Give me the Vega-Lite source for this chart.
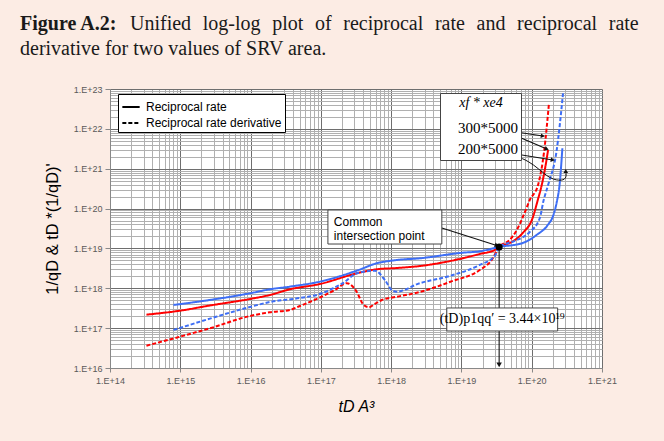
{
  "$schema": "https://vega.github.io/schema/vega-lite/v6.json",
  "width": 492,
  "height": 279,
  "autosize": {"type": "none"},
  "padding": {"left": 110, "top": 89, "right": 62, "bottom": 73},
  "background": "#fcece4",
  "config": {"view": {"fill": "white", "stroke": null}, "font": "Liberation Sans"},
  "title": {
    "text": "Figure A.2:",
    "subtitle": ["\u200b\u00a0\u00a0\u00a0\u00a0\u00a0\u00a0\u00a0\u00a0\u00a0\u00a0\u00a0\u00a0\u00a0\u00a0\u00a0\u00a0\u00a0\u00a0\u00a0\u00a0\u00a0\u00a0Unified\u2002\u200alog-log\u2002\u200aplot\u2002\u200aof\u2002\u200areciprocal\u2002\u200arate\u2002\u200aand\u2002\u200areciprocal\u2002\u200arate", "derivative for two values of SRV area."],
    "anchor": "start",
    "frame": "group",
    "dx": -90,
    "offset": 26,
    "font": "Liberation Serif",
    "fontSize": 20,
    "fontWeight": "bold",
    "color": "#1a1a1a",
    "subtitleFont": "Liberation Serif",
    "subtitleFontSize": 20,
    "subtitleLineHeight": 25,
    "subtitleColor": "#1a1a1a",
    "subtitlePadding": -20
  },
  "datasets": {
    "curves": [
      {"x": 3.3e14, "y": 2.18e17, "area": "300*5000", "kind": "Reciprocal rate"},
      {"x": 9.9e14, "y": 2.74e17, "area": "300*5000", "kind": "Reciprocal rate"},
      {"x": 2.64e15, "y": 3.7e17, "area": "300*5000", "kind": "Reciprocal rate"},
      {"x": 9.8e15, "y": 5.39e17, "area": "300*5000", "kind": "Reciprocal rate"},
      {"x": 1.88e16, "y": 6.79e17, "area": "300*5000", "kind": "Reciprocal rate"},
      {"x": 3.62e16, "y": 9.44e17, "area": "300*5000", "kind": "Reciprocal rate"},
      {"x": 9.69e16, "y": 1.28e18, "area": "300*5000", "kind": "Reciprocal rate"},
      {"x": 3.25e17, "y": 2.38e18, "area": "300*5000", "kind": "Reciprocal rate"},
      {"x": 6.25e17, "y": 3.0e18, "area": "300*5000", "kind": "Reciprocal rate"},
      {"x": 1.21e18, "y": 3.23e18, "area": "300*5000", "kind": "Reciprocal rate"},
      {"x": 2.56e18, "y": 3.62e18, "area": "300*5000", "kind": "Reciprocal rate"},
      {"x": 1.04e19, "y": 5.66e18, "area": "300*5000", "kind": "Reciprocal rate"},
      {"x": 1.82e19, "y": 7.25e18, "area": "300*5000", "kind": "Reciprocal rate"},
      {"x": 2.98e19, "y": 9.14e18, "area": "300*5000", "kind": "Reciprocal rate"},
      {"x": 3.44e19, "y": 1.09e19, "area": "300*5000", "kind": "Reciprocal rate"},
      {"x": 5.2e19, "y": 1.45e19, "area": "300*5000", "kind": "Reciprocal rate"},
      {"x": 7.45e19, "y": 2.44e19, "area": "300*5000", "kind": "Reciprocal rate"},
      {"x": 1.03e20, "y": 5.81e19, "area": "300*5000", "kind": "Reciprocal rate"},
      {"x": 1.22e20, "y": 1.64e20, "area": "300*5000", "kind": "Reciprocal rate"},
      {"x": 1.39e20, "y": 3.91e20, "area": "300*5000", "kind": "Reciprocal rate"},
      {"x": 1.58e20, "y": 1.24e21, "area": "300*5000", "kind": "Reciprocal rate"},
      {"x": 1.71e20, "y": 2.95e21, "area": "300*5000", "kind": "Reciprocal rate"},

      {"x": 8.0e14, "y": 3.81e17, "area": "200*5000", "kind": "Reciprocal rate"},
      {"x": 2.64e15, "y": 5.09e17, "area": "200*5000", "kind": "Reciprocal rate"},
      {"x": 9.8e15, "y": 7.49e17, "area": "200*5000", "kind": "Reciprocal rate"},
      {"x": 1.88e16, "y": 9.44e17, "area": "200*5000", "kind": "Reciprocal rate"},
      {"x": 3.62e16, "y": 1.1e18, "area": "200*5000", "kind": "Reciprocal rate"},
      {"x": 9.69e16, "y": 1.47e18, "area": "200*5000", "kind": "Reciprocal rate"},
      {"x": 3.25e17, "y": 2.77e18, "area": "200*5000", "kind": "Reciprocal rate"},
      {"x": 6.25e17, "y": 4.24e18, "area": "200*5000", "kind": "Reciprocal rate"},
      {"x": 1.21e18, "y": 5.13e18, "area": "200*5000", "kind": "Reciprocal rate"},
      {"x": 2.56e18, "y": 5.66e18, "area": "200*5000", "kind": "Reciprocal rate"},
      {"x": 1.04e19, "y": 7.81e18, "area": "200*5000", "kind": "Reciprocal rate"},
      {"x": 1.82e19, "y": 8.47e18, "area": "200*5000", "kind": "Reciprocal rate"},
      {"x": 3.44e19, "y": 1.09e19, "area": "200*5000", "kind": "Reciprocal rate"},
      {"x": 7.45e19, "y": 1.37e19, "area": "200*5000", "kind": "Reciprocal rate"},
      {"x": 1.17e20, "y": 2.17e19, "area": "200*5000", "kind": "Reciprocal rate"},
      {"x": 1.69e20, "y": 3.87e19, "area": "200*5000", "kind": "Reciprocal rate"},
      {"x": 2.01e20, "y": 6.5e19, "area": "200*5000", "kind": "Reciprocal rate"},
      {"x": 2.27e20, "y": 1.45e20, "area": "200*5000", "kind": "Reciprocal rate"},
      {"x": 2.5e20, "y": 4.2e20, "area": "200*5000", "kind": "Reciprocal rate"},
      {"x": 2.73e20, "y": 3.25e21, "area": "200*5000", "kind": "Reciprocal rate"},

      {"x": 3.3e14, "y": 3.63e16, "area": "300*5000", "kind": "Reciprocal rate derivative"},
      {"x": 9.9e14, "y": 6.11e16, "area": "300*5000", "kind": "Reciprocal rate derivative"},
      {"x": 2.64e15, "y": 9.91e16, "area": "300*5000", "kind": "Reciprocal rate derivative"},
      {"x": 9.8e15, "y": 2.02e17, "area": "300*5000", "kind": "Reciprocal rate derivative"},
      {"x": 1.88e16, "y": 2.5e17, "area": "300*5000", "kind": "Reciprocal rate derivative"},
      {"x": 3.62e16, "y": 2.86e17, "area": "300*5000", "kind": "Reciprocal rate derivative"},
      {"x": 5.03e16, "y": 3.6e17, "area": "300*5000", "kind": "Reciprocal rate derivative"},
      {"x": 9.69e16, "y": 5.87e17, "area": "300*5000", "kind": "Reciprocal rate derivative"},
      {"x": 1.58e17, "y": 9.06e17, "area": "300*5000", "kind": "Reciprocal rate derivative"},
      {"x": 2.34e17, "y": 1.34e18, "area": "300*5000", "kind": "Reciprocal rate derivative"},
      {"x": 3.25e17, "y": 8.07e17, "area": "300*5000", "kind": "Reciprocal rate derivative"},
      {"x": 3.96e17, "y": 4.04e17, "area": "300*5000", "kind": "Reciprocal rate derivative"},
      {"x": 4.82e17, "y": 3.34e17, "area": "300*5000", "kind": "Reciprocal rate derivative"},
      {"x": 5.86e17, "y": 4.04e17, "area": "300*5000", "kind": "Reciprocal rate derivative"},
      {"x": 7.38e17, "y": 5.09e17, "area": "300*5000", "kind": "Reciprocal rate derivative"},
      {"x": 1.21e18, "y": 6.15e17, "area": "300*5000", "kind": "Reciprocal rate derivative"},
      {"x": 2.56e18, "y": 8.07e17, "area": "300*5000", "kind": "Reciprocal rate derivative"},
      {"x": 6.83e18, "y": 1.44e18, "area": "300*5000", "kind": "Reciprocal rate derivative"},
      {"x": 1.82e19, "y": 2.88e18, "area": "300*5000", "kind": "Reciprocal rate derivative"},
      {"x": 2.7e19, "y": 5.13e18, "area": "300*5000", "kind": "Reciprocal rate derivative"},
      {"x": 3.44e19, "y": 1.09e19, "area": "300*5000", "kind": "Reciprocal rate derivative"},
      {"x": 4.87e19, "y": 1.63e19, "area": "300*5000", "kind": "Reciprocal rate derivative"},
      {"x": 6.13e19, "y": 2.9e19, "area": "300*5000", "kind": "Reciprocal rate derivative"},
      {"x": 7.69e19, "y": 6.9e19, "area": "300*5000", "kind": "Reciprocal rate derivative"},
      {"x": 9.38e19, "y": 1.64e20, "area": "300*5000", "kind": "Reciprocal rate derivative"},
      {"x": 1.23e20, "y": 3.91e20, "area": "300*5000", "kind": "Reciprocal rate derivative"},
      {"x": 1.5e20, "y": 2.68e21, "area": "300*5000", "kind": "Reciprocal rate derivative"},
      {"x": 1.76e20, "y": 4.38e22, "area": "300*5000", "kind": "Reciprocal rate derivative"},

      {"x": 8.0e14, "y": 8.99e16, "area": "200*5000", "kind": "Reciprocal rate derivative"},
      {"x": 2.64e15, "y": 1.73e17, "area": "200*5000", "kind": "Reciprocal rate derivative"},
      {"x": 9.8e15, "y": 3.4e17, "area": "200*5000", "kind": "Reciprocal rate derivative"},
      {"x": 1.88e16, "y": 4.53e17, "area": "200*5000", "kind": "Reciprocal rate derivative"},
      {"x": 5.03e16, "y": 5.71e17, "area": "200*5000", "kind": "Reciprocal rate derivative"},
      {"x": 9.69e16, "y": 7.19e17, "area": "200*5000", "kind": "Reciprocal rate derivative"},
      {"x": 1.48e17, "y": 1.0e18, "area": "200*5000", "kind": "Reciprocal rate derivative"},
      {"x": 2.06e17, "y": 1.34e18, "area": "200*5000", "kind": "Reciprocal rate derivative"},
      {"x": 3.25e17, "y": 2.38e18, "area": "200*5000", "kind": "Reciprocal rate derivative"},
      {"x": 5.86e17, "y": 2.77e18, "area": "200*5000", "kind": "Reciprocal rate derivative"},
      {"x": 8.13e17, "y": 1.62e18, "area": "200*5000", "kind": "Reciprocal rate derivative"},
      {"x": 1.02e18, "y": 9.06e17, "area": "200*5000", "kind": "Reciprocal rate derivative"},
      {"x": 1.19e18, "y": 8.22e17, "area": "200*5000", "kind": "Reciprocal rate derivative"},
      {"x": 2.56e18, "y": 1.34e18, "area": "200*5000", "kind": "Reciprocal rate derivative"},
      {"x": 6.83e18, "y": 2.04e18, "area": "200*5000", "kind": "Reciprocal rate derivative"},
      {"x": 1.82e19, "y": 3.85e18, "area": "200*5000", "kind": "Reciprocal rate derivative"},
      {"x": 2.98e19, "y": 6.46e18, "area": "200*5000", "kind": "Reciprocal rate derivative"},
      {"x": 3.44e19, "y": 1.09e19, "area": "200*5000", "kind": "Reciprocal rate derivative"},
      {"x": 5.74e19, "y": 1.54e19, "area": "200*5000", "kind": "Reciprocal rate derivative"},
      {"x": 9.38e19, "y": 2.58e19, "area": "200*5000", "kind": "Reciprocal rate derivative"},
      {"x": 1.3e20, "y": 5.71e19, "area": "200*5000", "kind": "Reciprocal rate derivative"},
      {"x": 1.48e20, "y": 1.64e20, "area": "200*5000", "kind": "Reciprocal rate derivative"},
      {"x": 1.71e20, "y": 3.91e20, "area": "200*5000", "kind": "Reciprocal rate derivative"},
      {"x": 2.25e20, "y": 2.68e21, "area": "200*5000", "kind": "Reciprocal rate derivative"},
      {"x": 2.79e20, "y": 7.8e22, "area": "200*5000", "kind": "Reciprocal rate derivative"}
    ],
    "arrows": [
      {"id": "common", "x": 5.26e18, "y": 3.26e19, "x2": 3.18e19, "y2": 1.19e19},
      {"id": "drop", "x": 3.44e19, "y": 1.09e19, "x2": 3.44e19, "y2": 1.2e16},
      {"id": "a1", "x": 3.87e19, "y": 9.35e21, "x2": 1.44e20, "y2": 6.62e21},
      {"id": "a2", "x": 3.87e19, "y": 9.35e21, "x2": 1.64e20, "y2": 3.13e21},
      {"id": "a3", "x": 3.87e19, "y": 2.63e21, "x2": 1.99e20, "y2": 1.66e21}
    ],
    "hook": [
      {"step": 1, "x": 3.87e19, "y": 2.63e21},
      {"step": 2, "x": 9.38e19, "y": 1.66e21},
      {"step": 3, "x": 1.69e20, "y": 5.85e20},
      {"step": 4, "x": 2.5e20, "y": 4.92e20},
      {"step": 5, "x": 3.15e20, "y": 5.52e20},
      {"step": 6, "x": 3.05e20, "y": 8.77e20}
    ],
    "heads": [
      {"id": "common", "x": 3.18e19, "y": 1.19e19},
      {"id": "a2", "x": 1.64e20, "y": 3.13e21},
      {"id": "a1", "x": 1.44e20, "y": 6.62e21},
      {"id": "a3", "x": 1.99e20, "y": 1.66e21},
      {"id": "drop", "x": 3.44e19, "y": 1.2e16},
      {"id": "hook", "x": 3.05e20, "y": 8.77e20}
    ],
    "boxes": [
      {"id": "common", "x": 1.26e17, "x2": 5.26e18, "y": 1.29e19, "y2": 9.2e19},
      {"id": "td", "x": 6.19e18, "x2": 2.34e20, "y": 8.49e16, "y2": 3.21e17}
    ],
    "notes": [
      {"x": 1.53e17, "y": 4.6e19, "label": "Common"},
      {"x": 1.53e17, "y": 2.05e19, "label": "intersection point"}
    ],
    "tdnote": [
      {"x": 3.8e19, "y": 1.65e17, "label": "(tD)p1qq′ = 3.44×10¹⁹"}
    ],
    "crossing": [
      {"x": 3.44e19, "y": 1.09e19}
    ]
  },
  "layer": [
    {
      "mark": {"type": "rect", "fillOpacity": 0, "stroke": "#3a3a3a", "strokeWidth": 1.5, "cornerRadius": 8},
      "encoding": {
        "x": {"datum": 3.2e12, "type": "quantitative", "scale": {"type": "log", "domain": [1e14, 1e21], "nice": false}, "axis": null},
        "x2": {"datum": 6.4e21},
        "y": {"datum": 1.28e25, "type": "quantitative", "scale": {"type": "log", "domain": [1e16, 1e23], "nice": false}, "axis": null},
        "y2": {"datum": 1.86e14}
      }
    },
    {
      "mark": {"type": "rect", "fill": "white"},
      "encoding": {
        "x": {"datum": 5.25e12, "type": "quantitative", "axis": null},
        "x2": {"datum": 4.05e21},
        "y": {"datum": 1e23, "type": "quantitative", "axis": null},
        "y2": {"datum": 4.0e23}
      }
    },
    {
      "mark": {"type": "rect", "fill": "white"},
      "encoding": {
        "x": {"datum": 5.25e12, "type": "quantitative", "axis": null},
        "x2": {"datum": 4.05e21},
        "y": {"datum": 3.31e14, "type": "quantitative", "axis": null},
        "y2": {"datum": 1e16}
      }
    },
    {
      "mark": {"type": "rect", "fill": "white"},
      "encoding": {
        "x": {"datum": 5.25e12, "type": "quantitative", "axis": null},
        "x2": {"datum": 1e14},
        "y": {"datum": 3.31e14, "type": "quantitative", "axis": null},
        "y2": {"datum": 4.0e23}
      }
    },
    {
      "mark": {"type": "rect", "fill": "white"},
      "encoding": {
        "x": {"datum": 1e21, "type": "quantitative", "axis": null},
        "x2": {"datum": 4.05e21},
        "y": {"datum": 3.31e14, "type": "quantitative", "axis": null},
        "y2": {"datum": 4.0e23}
      }
    },
    {
      "data": {"name": "curves"},
      "mark": {"type": "line", "strokeWidth": 2, "interpolate": "monotone"},
      "encoding": {
        "x": {"field": "x", "type": "quantitative",
          "axis": {"orient": "top", "values": [1e14, 1e15, 1e16, 1e17, 1e18, 1e19, 1e20, 1e21], "grid": true, "gridColor": "#6e6e6e", "gridWidth": 1, "labels": false, "ticks": false, "domain": false, "title": null, "zindex": 0}},
        "y": {"field": "y", "type": "quantitative",
          "axis": {"orient": "right", "values": [1e16, 1e17, 1e18, 1e19, 1e20, 1e21, 1e22, 1e23], "grid": true, "gridColor": "#6e6e6e", "gridWidth": 1, "labels": false, "ticks": false, "domain": false, "title": null, "zindex": 0}},
        "color": {"field": "area", "type": "nominal",
          "scale": {"domain": ["300*5000", "200*5000"], "range": ["#ff0000", "#3d6ef5"]},
          "legend": {"orient": "none", "legendX": 330, "legendY": 4, "title": "xf * xe4",
            "titleFont": "Liberation Serif", "titleFontStyle": "italic", "titleFontWeight": "normal", "titleFontSize": 14, "titleColor": "#000",
            "titleAnchor": "middle", "titlePadding": 10, "fillColor": "white", "strokeColor": "#444", "padding": 3,
            "symbolSize": 0, "symbolOpacity": 0, "symbolStrokeWidth": 0, "labelOffset": 0,
            "labelFont": "Liberation Serif", "labelFontSize": 15, "labelColor": "#000", "rowPadding": 5}},
        "strokeDash": {"field": "kind", "type": "nominal",
          "scale": {"domain": ["Reciprocal rate", "Reciprocal rate derivative"], "range": [[1, 0], [4, 2]]},
          "legend": {"orient": "none", "legendX": 8, "legendY": 5, "title": null,
            "fillColor": "white", "strokeColor": "#000", "padding": 3,
            "symbolType": "stroke", "symbolStrokeColor": "#000", "symbolStrokeWidth": 2, "symbolSize": 300,
            "labelFont": "Liberation Sans", "labelFontSize": 12, "labelColor": "#000", "rowPadding": -1, "labelOffset": 5}}
      }
    },
    {
      "data": {"name": "arrows"},
      "mark": {"type": "rule", "color": "#111", "strokeWidth": 1.1},
      "encoding": {
        "x": {"field": "x", "type": "quantitative", "axis": null},
        "x2": {"field": "x2"},
        "y": {"field": "y", "type": "quantitative", "axis": null},
        "y2": {"field": "y2"}
      }
    },
    {
      "data": {"name": "hook"},
      "mark": {"type": "line", "color": "#111", "strokeWidth": 1, "interpolate": "basis"},
      "encoding": {
        "x": {"field": "x", "type": "quantitative", "axis": null},
        "y": {"field": "y", "type": "quantitative", "axis": null},
        "order": {"field": "step"}
      }
    },
    {
      "data": {"name": "heads"},
      "transform": [{"filter": {"field": "id", "oneOf": ["a1", "a3"]}}],
      "mark": {"type": "point", "shape": "triangle-right", "filled": true, "color": "#111", "size": 22, "opacity": 1, "angle": 8},
      "encoding": {
        "x": {"field": "x", "type": "quantitative", "axis": null},
        "y": {"field": "y", "type": "quantitative", "axis": null}
      }
    },
    {
      "data": {"name": "heads"},
      "transform": [{"filter": {"field": "id", "oneOf": ["common", "a2"]}}],
      "mark": {"type": "point", "shape": "triangle-right", "filled": true, "color": "#111", "size": 22, "opacity": 1, "angle": 20},
      "encoding": {
        "x": {"field": "x", "type": "quantitative", "axis": null},
        "y": {"field": "y", "type": "quantitative", "axis": null}
      }
    },
    {
      "data": {"name": "heads"},
      "transform": [{"filter": {"field": "id", "equal": "drop"}}],
      "mark": {"type": "point", "shape": "triangle-down", "filled": true, "color": "#111", "size": 30, "opacity": 1},
      "encoding": {
        "x": {"field": "x", "type": "quantitative", "axis": null},
        "y": {"field": "y", "type": "quantitative", "axis": null}
      }
    },
    {
      "data": {"name": "heads"},
      "transform": [{"filter": {"field": "id", "equal": "hook"}}],
      "mark": {"type": "point", "shape": "triangle-up", "filled": true, "color": "#111", "size": 22, "opacity": 1},
      "encoding": {
        "x": {"field": "x", "type": "quantitative", "axis": null},
        "y": {"field": "y", "type": "quantitative", "axis": null}
      }
    },
    {
      "data": {"name": "boxes"},
      "mark": {"type": "rect", "fill": "white", "stroke": "#444", "strokeWidth": 1},
      "encoding": {
        "x": {"field": "x", "type": "quantitative",
          "axis": {"orient": "top", "values": [2e14, 3e14, 4e14, 5e14, 6e14, 7e14, 8e14, 9e14, 2e15, 3e15, 4e15, 5e15, 6e15, 7e15, 8e15, 9e15, 2e16, 3e16, 4e16, 5e16, 6e16, 7e16, 8e16, 9e16, 2e17, 3e17, 4e17, 5e17, 6e17, 7e17, 8e17, 9e17, 2e18, 3e18, 4e18, 5e18, 6e18, 7e18, 8e18, 9e18, 2e19, 3e19, 4e19, 5e19, 6e19, 7e19, 8e19, 9e19, 2e20, 3e20, 4e20, 5e20, 6e20, 7e20, 8e20, 9e20],
            "grid": true, "gridColor": "#b0b0b0", "gridWidth": 1, "labels": false, "ticks": false, "domain": false, "title": null, "zindex": 0}},
        "x2": {"field": "x2"},
        "y": {"field": "y", "type": "quantitative",
          "axis": {"orient": "right", "values": [2e16, 3e16, 4e16, 5e16, 6e16, 7e16, 8e16, 9e16, 2e17, 3e17, 4e17, 5e17, 6e17, 7e17, 8e17, 9e17, 2e18, 3e18, 4e18, 5e18, 6e18, 7e18, 8e18, 9e18, 2e19, 3e19, 4e19, 5e19, 6e19, 7e19, 8e19, 9e19, 2e20, 3e20, 4e20, 5e20, 6e20, 7e20, 8e20, 9e20, 2e21, 3e21, 4e21, 5e21, 6e21, 7e21, 8e21, 9e21, 2e22, 3e22, 4e22, 5e22, 6e22, 7e22, 8e22, 9e22],
            "grid": true, "gridColor": "#b0b0b0", "gridWidth": 1, "labels": false, "ticks": false, "domain": false, "title": null, "zindex": 0}},
        "y2": {"field": "y2"}
      }
    },
    {
      "data": {"name": "notes"},
      "mark": {"type": "text", "font": "Liberation Sans", "fontSize": 12, "align": "left", "baseline": "middle", "color": "#000"},
      "encoding": {
        "x": {"field": "x", "type": "quantitative", "axis": null},
        "y": {"field": "y", "type": "quantitative", "axis": null},
        "text": {"field": "label"}
      }
    },
    {
      "data": {"name": "tdnote"},
      "mark": {"type": "text", "font": "Liberation Serif", "fontSize": 14, "align": "center", "baseline": "middle", "color": "#000"},
      "encoding": {
        "x": {"field": "x", "type": "quantitative", "axis": null},
        "y": {"field": "y", "type": "quantitative", "axis": null},
        "text": {"field": "label"}
      }
    },
    {
      "data": {"name": "crossing"},
      "mark": {"type": "point", "shape": "circle", "filled": true, "color": "#000", "size": 50, "opacity": 1},
      "encoding": {
        "x": {"field": "x", "type": "quantitative",
          "axis": {"orient": "bottom", "values": [1e14, 1e15, 1e16, 1e17, 1e18, 1e19, 1e20, 1e21], "grid": false, "labelFlush": false,
            "labelExpr": "'1.E+' + format(log(datum.value) / LN10, '.0f')",
            "labelFont": "Liberation Sans", "labelFontSize": 9, "labelColor": "#595959", "labelPadding": 4,
            "ticks": true, "tickSize": 4, "tickColor": "#888", "domain": true, "domainColor": "#888",
            "title": "tD A³", "titleFont": "Liberation Sans", "titleFontSize": 16, "titleFontWeight": "normal", "titleFontStyle": "italic", "titleColor": "#000", "titlePadding": 13, "zindex": 1}},
        "y": {"field": "y", "type": "quantitative",
          "axis": {"orient": "left", "values": [1e16, 1e17, 1e18, 1e19, 1e20, 1e21, 1e22, 1e23], "grid": false, "labelFlush": false,
            "labelExpr": "'1.E+' + format(log(datum.value) / LN10, '.0f')",
            "labelFont": "Liberation Sans", "labelFontSize": 9, "labelColor": "#595959", "labelPadding": 3,
            "ticks": true, "tickSize": 5, "tickColor": "#888", "domain": true, "domainColor": "#888",
            "title": "1/qD & tD *(1/qD)'", "titleFont": "Liberation Sans", "titleFontSize": 16.5, "titleFontWeight": "normal", "titleColor": "#000", "titlePadding": 13, "zindex": 1}}
      }
    }
  ],
  "resolve": {"axis": {"x": "independent", "y": "independent"}}
}
